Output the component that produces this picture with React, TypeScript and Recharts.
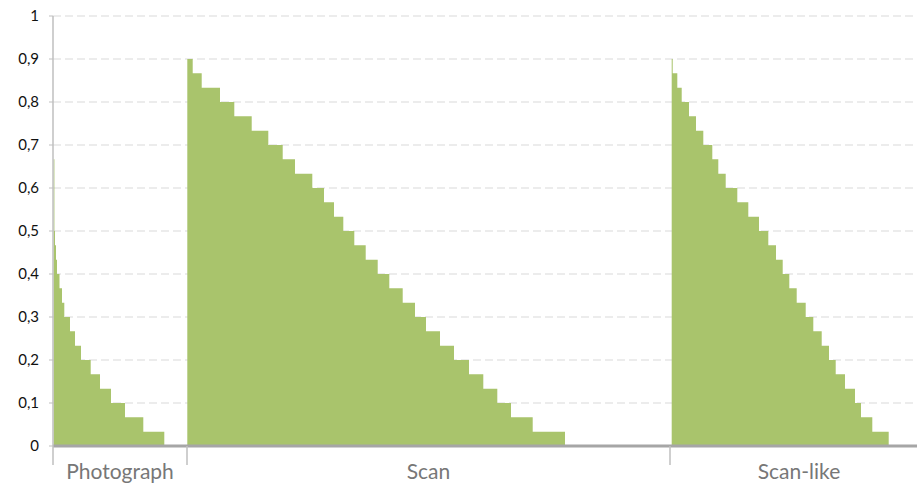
import { AreaChart, Area, XAxis, YAxis, CartesianGrid } from "recharts";

// group labels and where each group starts / ends on the rank axis
const categories = ["Photograph", "Scan", "Scan-like"];
const groupStarts = [0, 134, 617];
const groupEnds = [134, 617, 875];

const yTicks = [0, 0.1, 0.2, 0.3, 0.4, 0.5, 0.6, 0.7, 0.8, 0.9, 1];

// step start (rank) and share, sorted descending per group
const photographSteps = [
  { rank: 0.6, share: 0.667 },
  { rank: 1.4, share: 0.5 },
  { rank: 2, share: 0.467 },
  { rank: 3, share: 0.433 },
  { rank: 4, share: 0.4 },
  { rank: 6.5, share: 0.367 },
  { rank: 9, share: 0.333 },
  { rank: 11.3, share: 0.3 },
  { rank: 17, share: 0.267 },
  { rank: 22, share: 0.233 },
  { rank: 28, share: 0.2 },
  { rank: 37.7, share: 0.167 },
  { rank: 47, share: 0.133 },
  { rank: 58, share: 0.1 },
  { rank: 72, share: 0.067 },
  { rank: 90.3, share: 0.033 },
  { rank: 111.3, share: 0 },
];

const scanSteps = [
  { rank: 134.3, share: 0.9 },
  { rank: 139.7, share: 0.867 },
  { rank: 148.7, share: 0.833 },
  { rank: 167, share: 0.8 },
  { rank: 181.3, share: 0.767 },
  { rank: 198.7, share: 0.733 },
  { rank: 215.3, share: 0.7 },
  { rank: 229.7, share: 0.667 },
  { rank: 242, share: 0.633 },
  { rank: 259.3, share: 0.6 },
  { rank: 271, share: 0.567 },
  { rank: 281, share: 0.533 },
  { rank: 290.3, share: 0.5 },
  { rank: 301.3, share: 0.467 },
  { rank: 312.7, share: 0.433 },
  { rank: 324.7, share: 0.4 },
  { rank: 336.3, share: 0.367 },
  { rank: 349.7, share: 0.333 },
  { rank: 362, share: 0.3 },
  { rank: 373, share: 0.267 },
  { rank: 387, share: 0.233 },
  { rank: 401, share: 0.2 },
  { rank: 416, share: 0.167 },
  { rank: 430.3, share: 0.133 },
  { rank: 444.3, share: 0.1 },
  { rank: 458, share: 0.067 },
  { rank: 479.7, share: 0.033 },
  { rank: 512, share: 0 },
];

const scanLikeSteps = [
  { rank: 618.7, share: 0.9 },
  { rank: 619.7, share: 0.867 },
  { rank: 624.3, share: 0.833 },
  { rank: 628.7, share: 0.8 },
  { rank: 636, share: 0.767 },
  { rank: 643, share: 0.733 },
  { rank: 650.3, share: 0.7 },
  { rank: 659.3, share: 0.667 },
  { rank: 665.3, share: 0.633 },
  { rank: 672.7, share: 0.6 },
  { rank: 684.3, share: 0.567 },
  { rank: 695.3, share: 0.533 },
  { rank: 706, share: 0.5 },
  { rank: 715.3, share: 0.467 },
  { rank: 723, share: 0.433 },
  { rank: 729.7, share: 0.4 },
  { rank: 736.3, share: 0.367 },
  { rank: 743.7, share: 0.333 },
  { rank: 752.7, share: 0.3 },
  { rank: 760.3, share: 0.267 },
  { rank: 768.7, share: 0.233 },
  { rank: 776, share: 0.2 },
  { rank: 782.7, share: 0.167 },
  { rank: 792, share: 0.133 },
  { rank: 802, share: 0.1 },
  { rank: 808, share: 0.067 },
  { rank: 819.3, share: 0.033 },
  { rank: 835.7, share: 0 },
];

const data = [
  { rank: 0, share: 0 },
  ...photographSteps,
  ...scanSteps,
  ...scanLikeSteps,
];

const groupCenters = groupStarts.map((s, i) => (s + groupEnds[i]) / 2);
const xTicks = [...groupStarts, ...groupCenters].sort((a, b) => a - b);

function GroupTick(props: any) {
  const { x, y, payload } = props;
  const v = payload.value;
  if (groupStarts.includes(v)) {
    return <line x1={x} x2={x} y1={y} y2={y + 19} stroke="#bfbfbf" strokeWidth={1.5} />;
  }
  const idx = groupCenters.indexOf(v);
  return (
    <text
      x={x}
      y={y + 33}
      textAnchor="middle"
      fontSize={21}
      fontFamily="Lato"
      fill="#777"
    >
      {categories[idx]}
    </text>
  );
}

const fmt = (v: number) => String(Number(v.toFixed(1))).replace(".", ",");

export default function App() {
  return (
    <div style={{ position: "absolute", left: 0, top: 0, width: 917, height: 492, background: "#fff" }}>
      <AreaChart
        width={917}
        height={492}
        data={data}
        margin={{ top: 16, right: 0, left: 0, bottom: 0 }}
      >
        <CartesianGrid
          horizontal
          vertical={false}
          strokeDasharray="8 4"
          stroke="#d9d9d9"
        />
        <XAxis
          dataKey="rank"
          type="number"
          domain={[0, 864]}
          allowDataOverflow
          ticks={xTicks}
          interval={0}
          tick={<GroupTick />}
          tickLine={false}
          tickSize={0}
          tickMargin={0}
          height={46}
          axisLine={{ stroke: "#a6a6a6", strokeWidth: 3 }}
        />
        <YAxis
          type="number"
          domain={[0, 1]}
          ticks={yTicks}
          interval={0}
          width={53}
          tickFormatter={fmt}
          tickSize={4}
          tickMargin={10}
          tickLine={{ stroke: "#bfbfbf" }}
          axisLine={{ stroke: "#bfbfbf", strokeWidth: 1.5 }}
          tick={{ fontSize: 15, fontFamily: "Lato", fill: "#111" }}
        />
        <Area
          dataKey="share"
          type="stepAfter"
          stroke="none"
          fill="#a9c46c"
          fillOpacity={1}
          dot={false}
          activeDot={false}
          isAnimationActive={false}
        />
      </AreaChart>
    </div>
  );
}
